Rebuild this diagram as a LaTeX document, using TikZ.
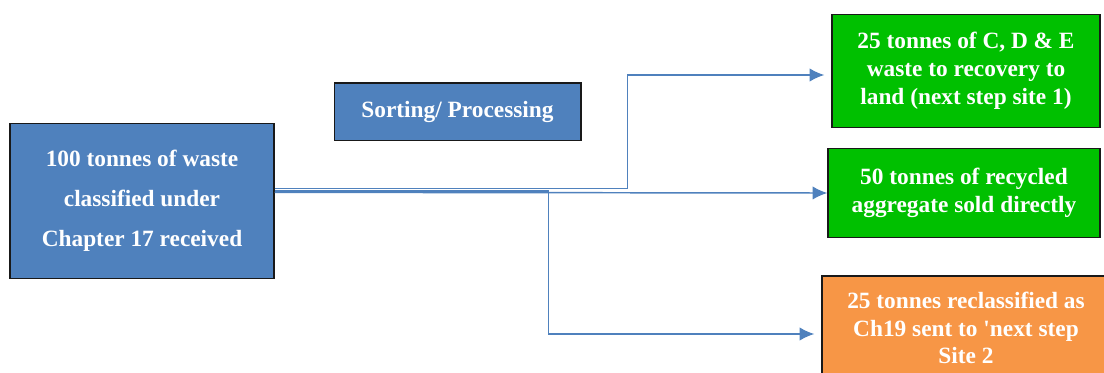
\documentclass[tikz,border=0pt]{standalone}
\usepackage{fontspec}
\setmainfont{Liberation Serif}
\usetikzlibrary{positioning,arrows.meta}
\definecolor{boxblue}{HTML}{4F81BD}
\definecolor{boxgreen}{HTML}{00C000}
\definecolor{boxorange}{HTML}{F79646}
\begin{document}
\begin{tikzpicture}[x=0.75pt,y=-0.75pt,>={Latex[length=11pt,width=10pt]},
    box/.style={draw=black!90,line width=1pt,text=white,font=\bfseries,align=center,inner sep=0pt},
    flow/.style={->,draw=boxblue,line width=1.1pt}]
    \useasboundingbox (0,0) rectangle (1104,372);

    \node[box,fill=boxblue,minimum width=198pt,minimum height=116pt,font=\bfseries\fontsize{17.5}{30}\selectfont] (src) at (142,201)
      {100 tonnes of waste\\classified under\\Chapter 17 received};
    \node[box,fill=boxblue,minimum width=185pt,minimum height=43pt,font=\bfseries\fontsize{17.5}{20}\selectfont] (sort) at (457.5,111.5)
      {Sorting/ Processing};

    \node[box,fill=boxgreen,minimum width=201pt,minimum height=85pt,font=\bfseries\fontsize{17.5}{21}\selectfont] (cde) at (966,71)
      {25 tonnes of C, D \& E\\waste to recovery to\\land (next step site 1)};
    \node[box,fill=boxgreen,minimum width=204pt,minimum height=67pt,font=\bfseries\fontsize{17.5}{21}\selectfont] (agg) at (964,193)
      {50 tonnes of recycled\\aggregate sold directly};
    \node[box,fill=boxorange,minimum width=216pt,minimum height=78pt,font=\bfseries\fontsize{17.5}{20.5}\selectfont] (ch19) at (966,328)
      {25 tonnes reclassified as\\Ch19 sent to \textquotesingle next step\\Site 2};

    \draw[flow] ([yshift=9.5pt]src.east) -- ++(353,0) |- ([shift={(-7,4)}]cde.west);
    \draw[flow] ([yshift=6.5pt]src.east) -- (agg.west);
    \draw[flow] ([yshift=7.5pt]src.east) -- ++(274,0) |- ([shift={(-7,6)}]ch19.west);
\end{tikzpicture}
\end{document}
